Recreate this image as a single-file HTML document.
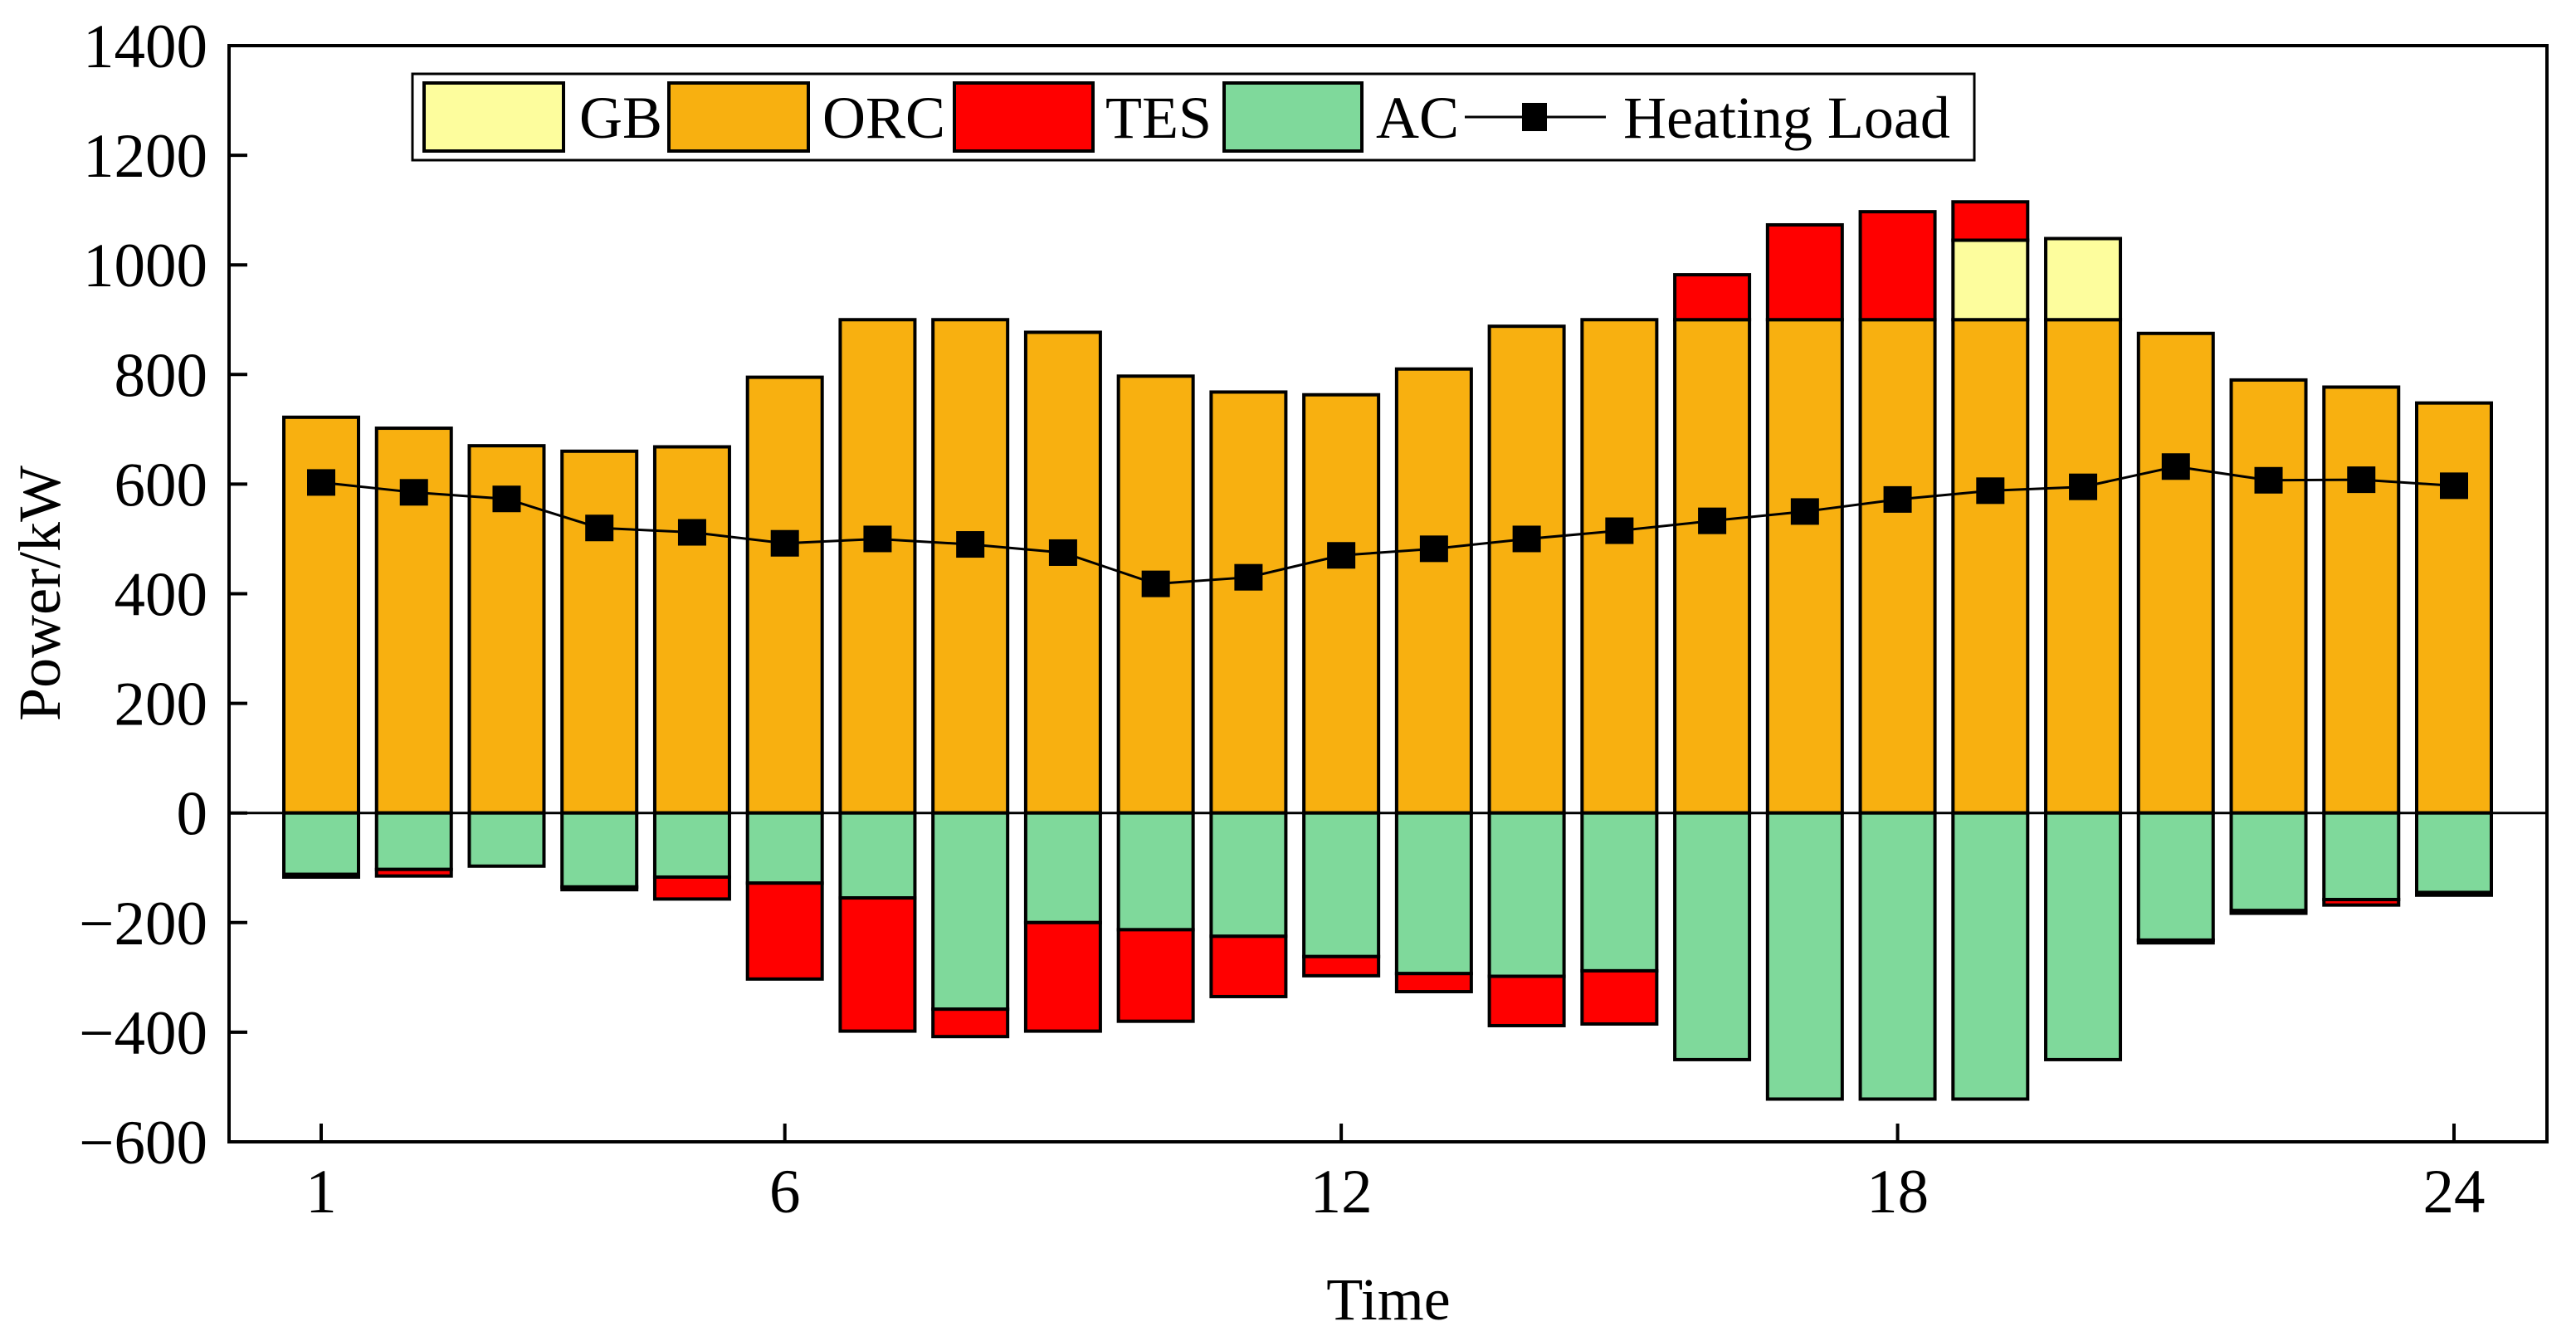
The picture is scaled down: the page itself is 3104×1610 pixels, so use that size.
<!DOCTYPE html>
<html><head><meta charset="utf-8"><style>
html,body{margin:0;padding:0;background:#fff;}
svg{display:block;font-family:"Liberation Serif",serif;}
</style></head><body>
<svg id="chart" width="3104" height="1610" viewBox="0 0 3104 1610" xmlns="http://www.w3.org/2000/svg">
<g id="bars"></g>
<g id="axes"></g>
<g id="line"></g>
<g id="legend">
  <rect x="497" y="89" width="1882" height="104" fill="#fff" stroke="#000" stroke-width="3"/>
  <rect x="511" y="100" width="168" height="82" fill="#FDFD9D" stroke="#000" stroke-width="4"/>
  <text x="698" y="166" font-size="72">GB</text>
  <rect x="806" y="100" width="168" height="82" fill="#F8B010" stroke="#000" stroke-width="4"/>
  <text x="991" y="166" font-size="72">ORC</text>
  <rect x="1150" y="100" width="167" height="82" fill="#FF0000" stroke="#000" stroke-width="4"/>
  <text x="1332" y="166" font-size="72">TES</text>
  <rect x="1475" y="100" width="166" height="82" fill="#7FD99B" stroke="#000" stroke-width="4"/>
  <text x="1658" y="166" font-size="72">AC</text>
  <line x1="1765" y1="141" x2="1935" y2="141" stroke="#000" stroke-width="3"/>
  <rect x="1834" y="124" width="30" height="34" fill="#000"/>
  <text x="1956" y="166" font-size="72">Heating Load</text>
</g>
</svg>
<script>
const hours = [1,2,3,4,5,6,7,8,9,10,11,12,13,14,15,16,17,18,19,20,21,22,23,24];
const orc = [722,702,670,660,668,795,900,900,877,797,768,763,810,888,900,900,900,900,900,900,875,790,777,748];
const gb = [0,0,0,0,0,0,0,0,0,0,0,0,0,0,0,0,0,0,145,148,0,0,0,0];
const tesPos = [0,0,0,0,0,0,0,0,0,0,0,0,0,0,0,82,173,197,70,0,0,0,0,0];
const ac = [-112,-103,-97,-135,-117,-128,-155,-358,-200,-213,-225,-262,-293,-298,-288,-450,-522,-522,-522,-450,-232,-178,-158,-145];
const tesNeg = [-5,-12,0,-5,-40,-175,-243,-50,-198,-167,-110,-35,-33,-90,-97,0,0,0,0,0,-5,-5,-10,-5];
const load = [603,585,573,520,512,492,500,490,475,418,430,470,482,500,515,533,550,572,588,595,632,607,608,597];
const yTicks = [-600,-400,-200,0,200,400,600,800,1000,1200,1400];
const xTicks = [1,6,12,18,24];

const NS="http://www.w3.org/2000/svg";
const L=276,R=3069,T=55,B=1376,YMIN=-600,YMAX=1400;
const X0=387,DX=(2957-387)/23,BW=90;
function xs(h){return X0+(h-1)*DX;}
function ys(v){return T+(YMAX-v)/(YMAX-YMIN)*(B-T);}
function mk(tag,attrs,parent){const e=document.createElementNS(NS,tag);for(const k in attrs)e.setAttribute(k,attrs[k]);parent.appendChild(e);return e;}

const bars=document.getElementById('bars');
function seg(h,v0,v1,fill,name){
  if(Math.abs(v1-v0)<0.01)return;
  const y0=ys(Math.max(v0,v1)),y1=ys(Math.min(v0,v1));
  const r=mk('rect',{x:xs(h)-BW/2,y:y0,width:BW,height:Math.max(y1-y0,1),fill:fill,stroke:'#000','stroke-width':4},bars);
  
  
}
hours.forEach((h,i)=>{
  seg(h,0,orc[i],'#F8B010','bar-orc-'+h);
  seg(h,orc[i],orc[i]+gb[i],'#FDFD9D','bar-gb-'+h);
  seg(h,orc[i]+gb[i],orc[i]+gb[i]+tesPos[i],'#FF0000','bar-tes-'+h);
  seg(h,0,ac[i],'#7FD99B','bar-ac-'+h);
  seg(h,ac[i],ac[i]+tesNeg[i],'#FF0000','bar-tes-discharge-'+h);
});

const axes=document.getElementById('axes');
const zl=mk('line',{x1:L,y1:ys(0),x2:R,y2:ys(0),stroke:'#000','stroke-width':3},axes);


const frame=mk('rect',{x:L,y:T,width:R-L,height:B-T,fill:'none',stroke:'#000','stroke-width':4},axes);


yTicks.forEach(v=>{
  const y=ys(v);
  if(v>YMIN&&v<YMAX){const t=mk('line',{x1:L,y1:y,x2:L+22,y2:y,stroke:'#000','stroke-width':4},axes);
  
  }
  const lb=mk('text',{x:250,y:y+26,'font-size':75,'text-anchor':'end'},axes);
  
  
  lb.textContent=v<0?'\u2212'+(-v):String(v);
});
xTicks.forEach(h=>{
  const x=xs(h);
  const t=mk('line',{x1:x,y1:B,x2:x,y2:B-22,stroke:'#000','stroke-width':4},axes);
  
  
  const lb=mk('text',{x:x,y:1461,'font-size':75,'text-anchor':'middle'},axes);
  
  
  lb.textContent=String(h);
});
const xt=mk('text',{x:1673,y:1590,'font-size':72,'text-anchor':'middle'},axes);


xt.textContent='Time';
const yt=mk('text',{x:0,y:0,'font-size':72,'text-anchor':'middle',transform:'translate(72,715) rotate(-90)'},axes);


yt.textContent='Power/kW';

const lg=document.getElementById('line');
const pts=hours.map((h,i)=>xs(h)+','+ys(load[i])).join(' ');
const pl=mk('polyline',{points:pts,fill:'none',stroke:'#000','stroke-width':3},lg);


hours.forEach((h,i)=>{
  const m=mk('rect',{x:xs(h)-17,y:ys(load[i])-16,width:34,height:32,fill:'#000'},lg);
  
  
});
</script>
</body></html>
